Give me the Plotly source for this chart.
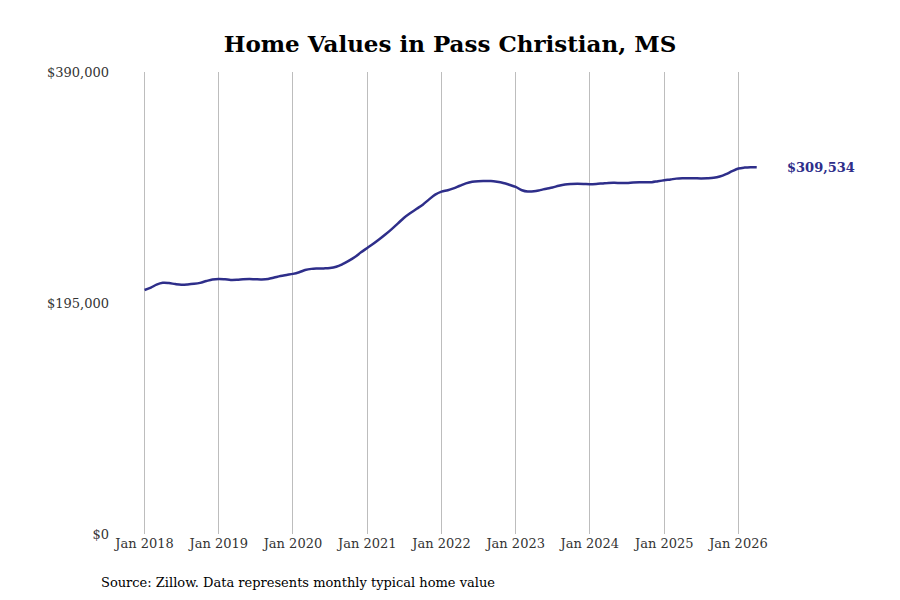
import pandas as pd
import plotly.graph_objects as go

months = pd.date_range("2018-01-01", "2026-07-01", freq="MS")

home_values = [
    206000, 208000, 210500, 212000, 211800, 211000, 210500, 210700, 211200, 212000, 213500, 214800,
    215300, 215000, 214500, 214600, 215000, 215200, 215000, 214900, 215300, 216500, 217800, 218700,
    219600, 221000, 222800, 223800, 224100, 224200, 224500, 225600, 227800, 230500, 233800, 237800,
    241500, 245200, 248800, 253000, 257400, 262200, 267000, 271000, 274500, 278000, 282500, 286500,
    289000, 290200, 291800, 294000, 296000, 297300, 297800, 297900, 297900, 297300, 296300, 294800,
    293000, 290200, 289100, 289300, 290300, 291500, 292500, 294000, 295100, 295500, 295600, 295500,
    295300, 295500, 295900, 296400, 296500, 296300, 296300, 296800, 297000, 296900, 297000, 297800,
    298600, 299300, 300000, 300300, 300400, 300300, 300200, 300300, 300700, 301800, 303800, 306300,
    308500, 309300, 309600, 309534,
]
home_values = home_values[: len(months)]

y_ticks = [0, 195000, 390000]
y_tick_labels = ["$0", "$195,000", "$390,000"]
x_ticks = pd.date_range("2018-01-01", "2026-01-01", freq="YS")
x_tick_labels = [f"Jan {d.year}" for d in x_ticks]

serif = "DejaVu Serif"
fig = go.Figure()
fig.add_trace(
    go.Scatter(
        x=months,
        y=home_values,
        mode="lines",
        line=dict(color="#2e2e8a", width=2.5, shape="spline"),
        hoverinfo="skip",
    )
)
fig.add_annotation(
    x=months[-1],
    y=home_values[-1],
    text="<b>$309,534</b>",
    showarrow=False,
    xanchor="left",
    xshift=10,
    font=dict(family=serif, size=13, color="#2e2e8a"),
)
fig.add_annotation(
    xref="paper", yref="paper",
    x=-0.0146, y=-0.104,
    xanchor="left", yanchor="middle",
    text="Source: Zillow. Data represents monthly typical home value",
    showarrow=False,
    font=dict(family=serif, size=13, color="black"),
)
fig.update_layout(
    width=884,
    height=584,
    template=None,
    plot_bgcolor="white",
    paper_bgcolor="white",
    showlegend=False,
    margin=dict(l=102, r=30, t=64, b=58, pad=0),
    title=dict(
        text="<b>Home Values in Pass Christian, MS</b>",
        x=0.5, xanchor="center", y=0.938, yanchor="middle",
        font=dict(family=serif, size=23, color="black"),
    ),
    xaxis=dict(
        range=["2017-07-15", "2027-09-01"],
        tickvals=x_ticks,
        ticktext=x_tick_labels,
        showgrid=True,
        gridcolor="#bdbdbd",
        gridwidth=1,
        zeroline=False,
        showline=False,
        tickfont=dict(family=serif, size=13, color="#333333"),
    ),
    yaxis=dict(
        range=[0, 390000],
        tickvals=y_ticks,
        ticktext=y_tick_labels,
        showgrid=False,
        zeroline=False,
        showline=False,
        tickfont=dict(family=serif, size=13, color="#333333"),
    ),
)
fig.write_html("out.html")
